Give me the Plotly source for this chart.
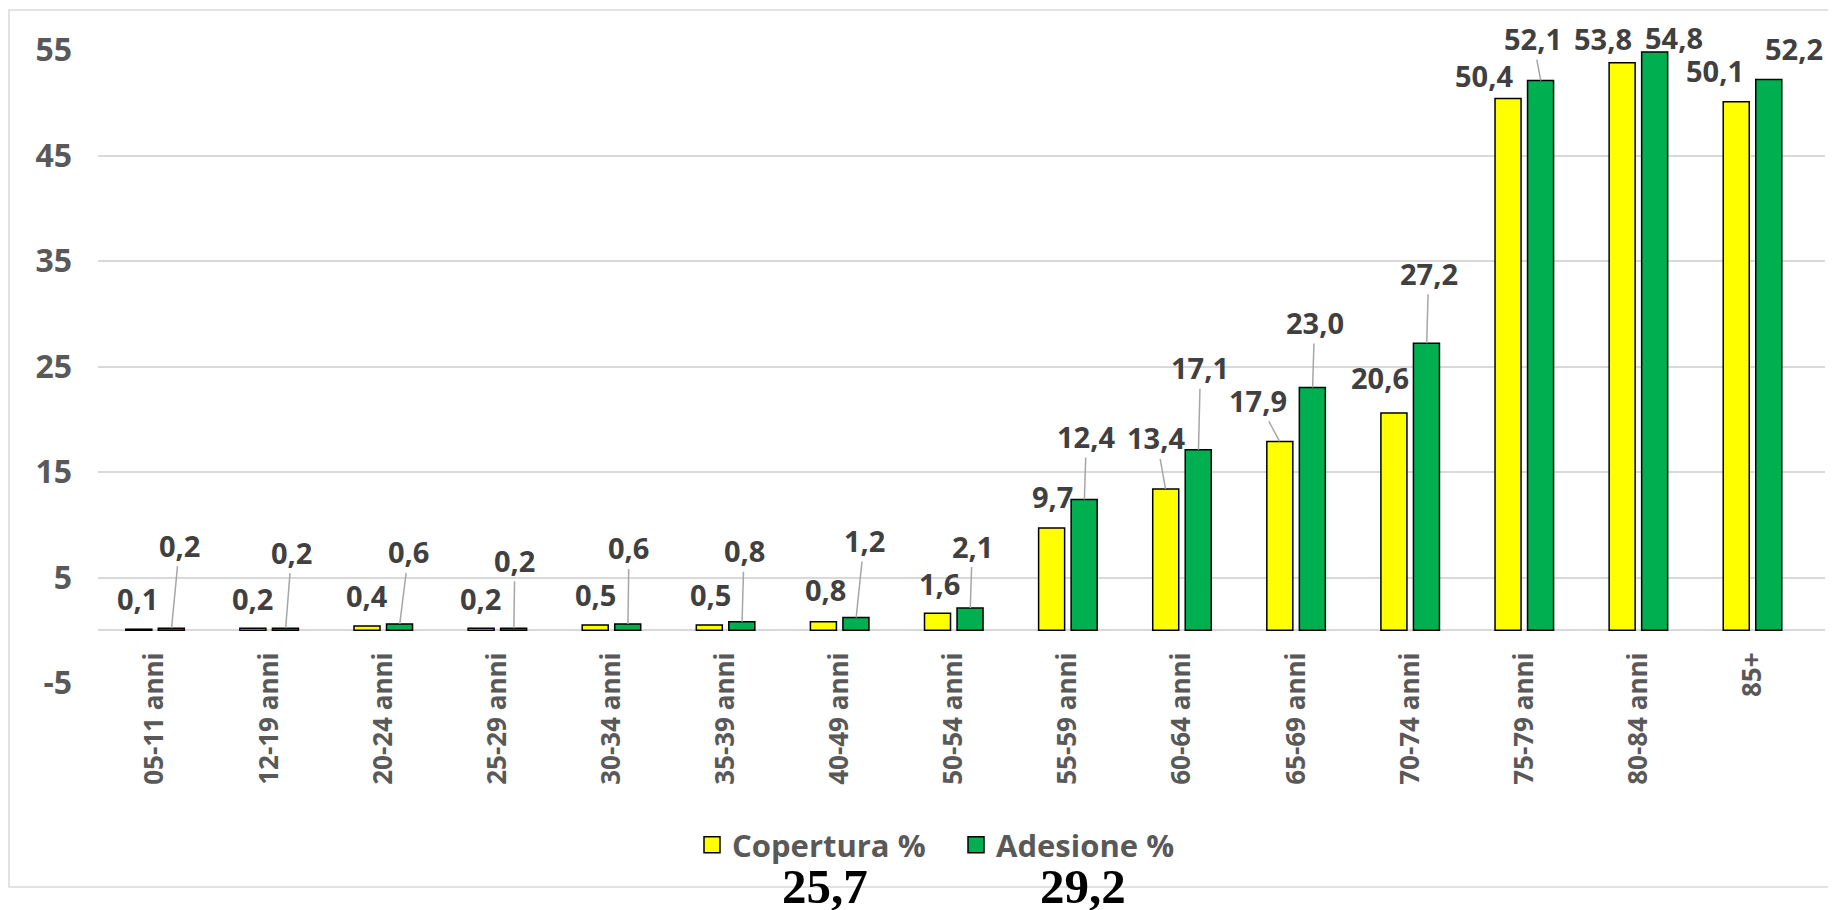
import plotly.graph_objects as go

# ---------------- data ----------------
categories = ["05-11 anni", "12-19 anni", "20-24 anni", "25-29 anni", "30-34 anni",
              "35-39 anni", "40-49 anni", "50-54 anni", "55-59 anni", "60-64 anni",
              "65-69 anni", "70-74 anni", "75-79 anni", "80-84 anni", "85+"]
copertura = [0.1, 0.2, 0.4, 0.2, 0.5, 0.5, 0.8, 1.6, 9.7, 13.4, 17.9, 20.6, 50.4, 53.8, 50.1]
adesione = [0.2, 0.2, 0.6, 0.2, 0.6, 0.8, 1.2, 2.1, 12.4, 17.1, 23.0, 27.2, 52.1, 54.8, 52.2]
series_names = ["Copertura %", "Adesione %"]
totals = ["25,7", "29,2"]
y_tickvals = [-5, 5, 15, 25, 35, 45, 55]
y_ticktext = ["-5", "5", "15", "25", "35", "45", "55"]

# ---------------- styling / positions ----------------
PAGE_W, PAGE_H = 1836, 910
BODY_OFF = 8                      # default page margin around the plot div
FIG_W, FIG_H = PAGE_W - BODY_OFF, PAGE_H - BODY_OFF
# plot area in page pixels
PL, PR, PT, PB = 98, 1825, 50, 683
M_L, M_R = PL - BODY_OFF, FIG_W - (PR - BODY_OFF)
M_T, M_B = PT - BODY_OFF, FIG_H - (PB - BODY_OFF)
Y_RANGE = [-5, 55]
YELLOW, GREEN = "#FFFF00", "#00B050"
LABEL_COLOR = "#404040"
AXIS_COLOR = "#595959"
GRID = "#D9D9D9"
FONT = "Open Sans"
GROUP_OFFSET = 16.5  # px offset of each bar from category centre

# data-label offsets (px) relative to bar top: (dx, dy, leader line?)
cop_label_pos = [(-1, -31, False), (0, -30, False), (0, -31, False), (0, -30, False),
                 (1, -30, False), (1, -30, False), (2, -32, False), (2, -30, False),
                 (1, -31, False), (-9, -51, True), (-22, -41, True), (-14, -35, False),
                 (-24, -23, False), (-19, -24, False), (-21, -31, False)]
ade_label_pos = [(8, -83, True), (6, -76, True), (9, -72, True), (1, -68, True),
                 (1, -76, True), (2, -71, True), (8, -77, True), (2, -62, True),
                 (2, -63, True), (2, -82, True), (2, -65, True), (2, -70, True),
                 (-8, -42, True), (19, -15, False), (25, -31, False)]


def px_to_paper_x(px):
    return (px - PL) / (PR - PL)


def px_to_paper_y(py):
    return (PB - py) / (PB - PT)


def fmt(v):
    return f"{v:.1f}".replace(".", ",")


fig = go.Figure()
for name, vals, col in [(series_names[0], copertura, YELLOW), (series_names[1], adesione, GREEN)]:
    fig.add_trace(go.Bar(
        x=categories, y=vals, name=name, showlegend=False,
        marker=dict(color=col, line=dict(color="black", width=1.5)),
        hoverinfo="x+y",
    ))
# legend proxies (bigger square symbols like the original)
for name, col in [(series_names[0], YELLOW), (series_names[1], GREEN)]:
    fig.add_trace(go.Scatter(
        x=[None], y=[None], mode="markers", name=name,
        marker=dict(symbol="square", size=16, color=col, line=dict(color="black", width=1.5)),
    ))

annotations = []
for vals, positions, sign in [(copertura, cop_label_pos, -1), (adesione, ade_label_pos, 1)]:
    for cat, v, (dx, dy, leader) in zip(categories, vals, positions):
        base = dict(x=cat, y=v, xref="x", yref="y", text=f"<b>{fmt(v)}</b>",
                    font=dict(family=FONT, size=29, color=LABEL_COLOR))
        if leader:
            annotations.append(dict(base, xshift=sign * GROUP_OFFSET, showarrow=True,
                                    ax=dx, ay=dy, arrowhead=0, arrowwidth=1.5,
                                    arrowcolor="#A6A6A6", standoff=0, startstandoff=0))
        else:
            annotations.append(dict(base, showarrow=False,
                                    xshift=sign * GROUP_OFFSET + dx, yshift=-dy))

# totals under the legend
for txt, px in zip(totals, [825, 1083]):
    annotations.append(dict(
        x=px_to_paper_x(px), y=px_to_paper_y(886), xref="paper", yref="paper",
        text=f"<b>{txt}</b>", showarrow=False, xanchor="center", yanchor="middle",
        borderpad=0,
        font=dict(family="Liberation Serif", size=49, color="black"),
    ))

zero_pos = (0 - Y_RANGE[0]) / (Y_RANGE[1] - Y_RANGE[0])

fig.update_layout(
    width=FIG_W, height=FIG_H,
    margin=dict(l=M_L, r=M_R, t=M_T, b=M_B, pad=0),
    paper_bgcolor="white", plot_bgcolor="white",
    barmode="group", bargap=0.43, bargroupgap=0.2,
    font=dict(family=FONT, color=AXIS_COLOR),
    annotations=annotations,
    legend=dict(
        orientation="h", x=px_to_paper_x(692), y=px_to_paper_y(845),
        xanchor="left", yanchor="middle", entrywidth=219,
        font=dict(family=FONT, size=31, color=AXIS_COLOR, weight="bold"),
        bgcolor="rgba(0,0,0,0)",
    ),
    xaxis=dict(
        type="category", anchor="free", position=zero_pos,
        tickangle=-90, showgrid=False, showline=False, ticks="",
        tickfont=dict(family=FONT, size=26, color=AXIS_COLOR, weight="bold"),
        ticklabelstandoff=16, automargin=False,
    ),
    yaxis=dict(
        range=Y_RANGE, tickvals=y_tickvals, ticktext=y_ticktext,
        showgrid=True, gridcolor=GRID, gridwidth=1.5,
        zeroline=True, zerolinecolor=GRID, zerolinewidth=1.5, showline=False, ticks="",
        tickfont=dict(family=FONT, size=32, color=AXIS_COLOR, weight="bold"),
        ticklabelstandoff=25, automargin=False,
    ),
    shapes=[dict(type="rect", xref="paper", yref="paper",
                 x0=px_to_paper_x(9), x1=px_to_paper_x(1850),
                 y0=px_to_paper_y(887), y1=px_to_paper_y(10),
                 line=dict(color=GRID, width=1.5), layer="below")],
)

fig.write_html("out.html")
